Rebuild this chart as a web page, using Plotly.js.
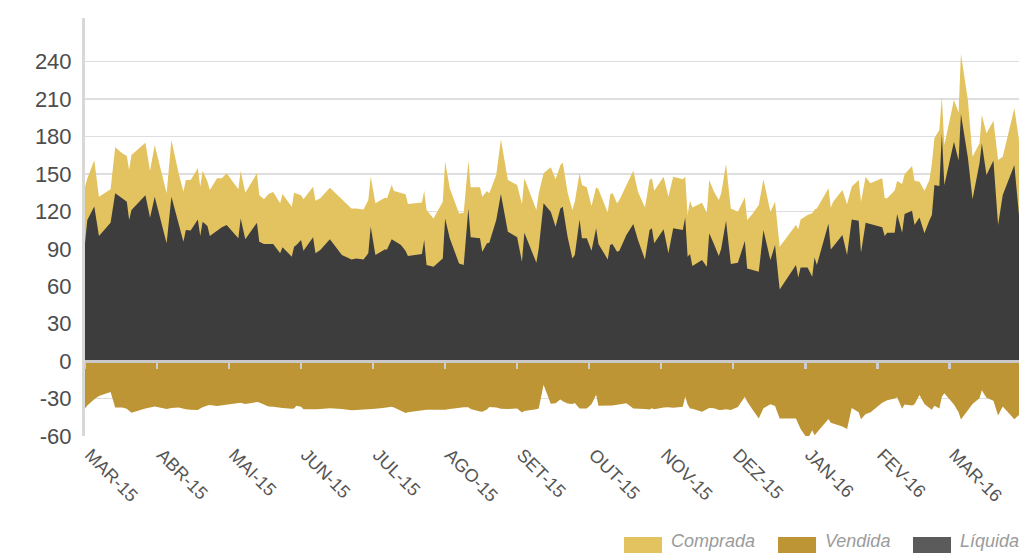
<!DOCTYPE html>
<html>
<head>
<meta charset="utf-8">
<script src="https://cdn.plot.ly/plotly-3.0.1.min.js"></script>
<style>
  html, body { margin: 0; padding: 0; background: #ffffff; }
  #chart { width: 1019px; height: 553px; }
</style>
</head>
<body>
<div id="chart"></div>
<script>
// ---- data ----
const dates = [
  "2015-03-01","2015-03-02","2015-03-05","2015-03-07","2015-03-12","2015-03-14","2015-03-17","2015-03-19","2015-03-20","2015-03-21","2015-03-27","2015-03-29","2015-03-31",
  "2015-04-05","2015-04-07","2015-04-10","2015-04-12","2015-04-13","2015-04-15","2015-04-18","2015-04-19","2015-04-20","2015-04-22","2015-04-23","2015-04-26","2015-04-28","2015-04-30",
  "2015-05-05","2015-05-06","2015-05-08","2015-05-13","2015-05-14","2015-05-16","2015-05-18","2015-05-20","2015-05-23","2015-05-24","2015-05-28","2015-05-29","2015-05-30",
  "2015-06-01","2015-06-02","2015-06-06","2015-06-07","2015-06-09","2015-06-13","2015-06-18","2015-06-22","2015-06-24","2015-06-27","2015-06-29","2015-06-30",
  "2015-07-02","2015-07-06","2015-07-07","2015-07-09","2015-07-10","2015-07-13","2015-07-15","2015-07-16","2015-07-22","2015-07-23","2015-07-24","2015-07-27","2015-07-31",
  "2015-08-01","2015-08-03","2015-08-07","2015-08-09","2015-08-11","2015-08-12","2015-08-16","2015-08-17","2015-08-19","2015-08-20","2015-08-23","2015-08-25","2015-08-28",
  "2015-09-01","2015-09-03","2015-09-04","2015-09-09","2015-09-10","2015-09-12","2015-09-15","2015-09-17","2015-09-19","2015-09-20","2015-09-22","2015-09-24","2015-09-25","2015-09-27","2015-09-28","2015-09-30",
  "2015-10-02","2015-10-04","2015-10-05","2015-10-09","2015-10-10","2015-10-11","2015-10-13","2015-10-14","2015-10-17","2015-10-20","2015-10-22","2015-10-25","2015-10-27","2015-10-28","2015-10-29",
  "2015-11-02","2015-11-04","2015-11-06","2015-11-10","2015-11-11","2015-11-12","2015-11-13","2015-11-14","2015-11-18","2015-11-20","2015-11-21","2015-11-23","2015-11-25","2015-11-26","2015-11-28","2015-11-30",
  "2015-12-03","2015-12-06","2015-12-07","2015-12-09","2015-12-12","2015-12-14","2015-12-17","2015-12-19","2015-12-21","2015-12-28","2015-12-29","2015-12-30",
  "2016-01-02","2016-01-04","2016-01-05","2016-01-06","2016-01-11","2016-01-12","2016-01-13","2016-01-17","2016-01-19","2016-01-21","2016-01-24","2016-01-25","2016-01-27","2016-01-29",
  "2016-02-03","2016-02-04","2016-02-05","2016-02-08","2016-02-09","2016-02-11","2016-02-12","2016-02-15","2016-02-16","2016-02-18","2016-02-20","2016-02-22","2016-02-23","2016-02-24","2016-02-26","2016-02-27","2016-02-28",
  "2016-03-03","2016-03-05","2016-03-06","2016-03-09","2016-03-11","2016-03-14","2016-03-15","2016-03-17","2016-03-20","2016-03-22","2016-03-24","2016-03-29","2016-03-31"
];

const comprada = [
  139.8,146.4,161,131.8,137.7,171.4,166.6,164.4,153.2,165.2,175.1,152.6,173.2,
  134.5,177.2,150.5,135.8,145.2,145.2,154.5,139.8,152.6,144,137.1,146.5,146.5,150.5,
  137.7,152.6,135.0,150.5,133.1,129.7,133.9,135.5,126.5,133.9,123.8,135.0,134.5,
  133,129.7,139.8,128.6,130.5,139.0,129.5,122.4,122.4,121.6,129.1,147.8,
  126.5,131.0,130.5,141.2,136.3,134.8,133.7,125.9,127.2,136.6,121.1,114.4,127.8,
  159.9,138.5,118.4,119,160.7,139.3,139.3,131.8,136.3,134.5,149.2,177.8,145.2,
  141.2,125.9,146.5,121.1,134.5,150.5,155.3,145.7,157,159.1,135.4,121.1,127.8,150.5,141.2,139.3,
  124.3,139.3,137.7,119,133.1,135.0,126.5,129.1,140.6,152.6,135.8,123.2,145.2,146.5,136.6,
  147.8,131.8,147.8,145.7,147.8,117.1,128.6,123.2,127,119,145.2,135.8,129.1,134.5,158,122.4,
  119.8,131.3,113.1,117.3,125.1,145.7,119.8,127.8,91.7,109.1,105.6,113.6,
  117.1,118.5,121.6,122.4,138.5,123,127.8,137.1,125.7,139.8,145.2,127.8,147.8,142.5,
  146.5,130.5,130.5,136.7,144.4,142,149.7,156.4,144.6,143.8,136.6,145.2,158.6,178.6,185.3,212,173.2,
  209.3,199.2,246.2,209.3,163.9,174.6,197.3,182.6,192.7,161.2,163.9,202.7,177.2
];

const vendida = [
  -37.9,-35.5,-30.5,-28,-24.8,-37.2,-37.2,-38.2,-39.7,-41.4,-37.9,-36.9,-36.3,
  -38.4,-37.5,-37.1,-38.3,-38.6,-38.9,-39.2,-37.9,-36.9,-35.6,-35.1,-35.9,-35.3,-35,
  -33.8,-33.4,-34.4,-32.8,-33.1,-34.6,-36.3,-36.6,-37.8,-37.6,-38.2,-38,-35.7,
  -36.5,-38.5,-38.8,-38.6,-38.3,-37.7,-38.3,-39.3,-39.1,-38.8,-38.8,-38.3,
  -38.1,-37.3,-36.9,-36.6,-37.2,-39.6,-41.6,-41,-39,-39,-38.9,-38.9,-39.3,
  -39,-38.4,-37.3,-36.9,-36.9,-38.3,-40.3,-40.5,-38.8,-36.8,-37.2,-38.1,-38.4,
  -37.9,-41.2,-39.9,-38.6,-37.9,-18.9,-34.1,-33.8,-30.8,-32.2,-33.9,-34.4,-33.5,-37.9,-37.9,-37.9,
  -34.5,-27,-35.8,-35.8,-36.1,-35.5,-35,-34.7,-33.8,-37.9,-37.9,-38.3,-38.8,-37.7,-38.6,
  -37.1,-37,-37.3,-36.6,-28.4,-34.8,-37.9,-38.2,-40.6,-38.5,-37.5,-37.7,-39.1,-39.1,-38.5,-39.1,
  -36.7,-28.5,-32.4,-37.9,-45.9,-37.8,-34.5,-35.9,-45.9,-45.9,-50.7,-54.3,
  -62.5,-55.4,-59.3,-57.1,-46.4,-49.3,-49.8,-52.4,-54.4,-37.5,-41,-46.5,-42.4,-41.2,
  -33.4,-32.3,-31.4,-29.9,-28.9,-38.1,-34.7,-35.6,-34.5,-27.1,-34.3,-37.5,-38.9,-35.7,-38,-28.5,-25.8,
  -34.8,-40.9,-46.8,-39.3,-34.3,-29.7,-23.3,-29.3,-31.8,-43.5,-36.4,-46.6,-43.1
];

const liquida = [
  94.4,113.1,124,100.3,110.9,134.5,130.5,127.8,113.1,121.1,132.9,115,131.8,
  94.4,131.8,110.4,95.7,105.1,104.6,113.6,100.3,111.7,108.3,100.3,104.6,107.3,109.1,
  98.4,114.4,97.6,110.9,95.7,93.8,93.8,93.8,86.4,91.2,83.7,91.7,93,
  97,88.5,99.2,86.4,89,97.6,85,81.5,82.3,81.5,86.4,107.7,
  85.0,89.5,89.5,97.6,96.3,93.0,88.2,84.2,85.8,97.0,77.0,75.7,82.3,
  114.4,98.4,78.3,77,122.4,99.2,98.4,87.7,94.4,94.9,113.1,133.9,103.7,
  99.2,79.7,102.9,78.9,90.4,126.5,119.8,107.7,122.4,123.8,99.7,82.3,85,113.6,98.4,98.4,
  88.5,106.4,93.8,81.5,93.0,93.8,87.7,88.5,101.1,109.9,97.0,81.5,105.1,106.4,94.4,
  105.6,86.4,106.4,105.1,115.2,83.7,85.8,76.2,81,75.7,102.4,93.6,84.2,90,112.5,77.8,
  78.9,96.2,74.3,73.3,71.6,105.1,81.0,93.0,57.5,77.0,67.1,75.1,
  75.1,67.6,83.1,77.0,110.4,89.5,91.9,101.1,85.0,113.6,112.5,86.9,110.9,109.7,
  107.2,100.3,102.9,102.9,117.9,102.9,117.9,120.6,109.1,115.2,102.4,113,117.1,141.2,140.4,182.6,141.2,
  175.9,160.7,198.1,163,129.7,158.6,174.6,149.2,160.7,109.1,133.1,157.2,117.1
];

const seriesNames = ["Comprada", "Vendida", "Líquida"];
const monthLabels = ["MAR-15","ABR-15","MAI-15","JUN-15","JUL-15","AGO-15","SET-15","OUT-15","NOV-15","DEZ-15","JAN-16","FEV-16","MAR-16"];
const yTickValues = [-60, -30, 0, 30, 60, 90, 120, 150, 180, 210, 240];
const yTickLabels = ["-60", "-30", "0", "30", "60", "90", "120", "150", "180", "210", "240"];

// ---- styling ----
const COLORS = { comprada: "#E3C35F", vendida: "#BE9534", liquida: "#3D3D3D", liquidaKey: "#5B5B5B" };
const FONT = "'Liberation Sans', Arial, sans-serif";

// position of a date on a month-uniform axis (each month has the same width)
function monthPos(d) {
  const [y, m, dd] = d.split("-").map(Number);
  const idx = (y - 2015) * 12 + (m - 3);
  const dim = new Date(y, m, 0).getDate();
  return idx + (dd - 1) / dim;
}
const xs = dates.map(monthPos);
const monthTicks = monthLabels.map((_, i) => i);
const yRange = [-60, 275];
const xRange = [0, xs[xs.length - 1]];

const traces = [
  { type: "scatter", mode: "lines", name: seriesNames[0], x: xs, y: comprada,
    fill: "tozeroy", fillcolor: COLORS.comprada, line: { width: 0, color: COLORS.comprada }, hoverinfo: "skip" },
  { type: "scatter", mode: "lines", name: seriesNames[2], x: xs, y: liquida,
    fill: "tozeroy", fillcolor: COLORS.liquida, line: { width: 0, color: COLORS.liquida }, hoverinfo: "skip" },
  { type: "scatter", mode: "lines", name: seriesNames[1], x: xs, y: vendida, xaxis: "x2",
    fill: "tozeroy", fillcolor: COLORS.vendida, line: { width: 0, color: COLORS.vendida }, hoverinfo: "skip" }
];

// custom legend (large swatches like the reference)
const legendItems = [
  { name: seriesNames[0], color: COLORS.comprada, x: 0.5771 },
  { name: seriesNames[1], color: COLORS.vendida, x: 0.7420 },
  { name: seriesNames[2], color: COLORS.liquidaKey, x: 0.8865 }
];
const shapes = legendItems.map(it => ({
  type: "rect", xref: "paper", yref: "paper", x0: it.x, x1: it.x + 0.0407, y0: -0.2416, y1: -0.30,
  fillcolor: it.color, line: { width: 0 }, layer: "above"
}));
const annotations = legendItems.map(it => ({
  xref: "paper", yref: "paper", x: it.x + 0.0490, y: -0.2785, xanchor: "left", yanchor: "bottom",
  text: "<i>" + it.name + "</i>", showarrow: false, borderpad: 0,
  font: { family: FONT, size: 18, color: "#9B9B9B" }
}));

const layout = {
  width: 1019, height: 553,
  margin: { l: 85, r: 0, t: 18, b: 117, pad: 0 },
  paper_bgcolor: "#ffffff", plot_bgcolor: "#ffffff",
  showlegend: false,
  xaxis: {
    range: xRange, tickvals: monthTicks, ticktext: monthLabels, tickangle: 45,
    tickfont: { family: FONT, size: 18, color: "#555555" },
    showgrid: false, zeroline: false, showline: false, ticks: "",
    ticklabelstandoff: 4, ticklabelshift: 5, fixedrange: true
  },
  xaxis2: {
    overlaying: "x", anchor: "free", position: (0 - yRange[0]) / (yRange[1] - yRange[0]),
    range: xRange, tickvals: monthTicks, showticklabels: false,
    showline: true, linecolor: "#C9C9C9", linewidth: 3,
    ticks: "outside", ticklen: 6, tickwidth: 2.5, tickcolor: "#CDCDCD",
    showgrid: false, zeroline: false, fixedrange: true
  },
  yaxis: {
    range: yRange, tickvals: yTickValues, ticktext: yTickLabels,
    tickfont: { family: FONT, size: 22, color: "#4D4D4D" },
    showgrid: true, gridcolor: "#DEDEDE", gridwidth: 1.5,
    zeroline: false, showline: true, linecolor: "#D8D8D8", linewidth: 3,
    ticks: "", ticklabelstandoff: 6, fixedrange: true
  },
  shapes: shapes,
  annotations: annotations
};

Plotly.newPlot("chart", traces, layout, { displayModeBar: false, staticPlot: true });
</script>
</body>
</html>
